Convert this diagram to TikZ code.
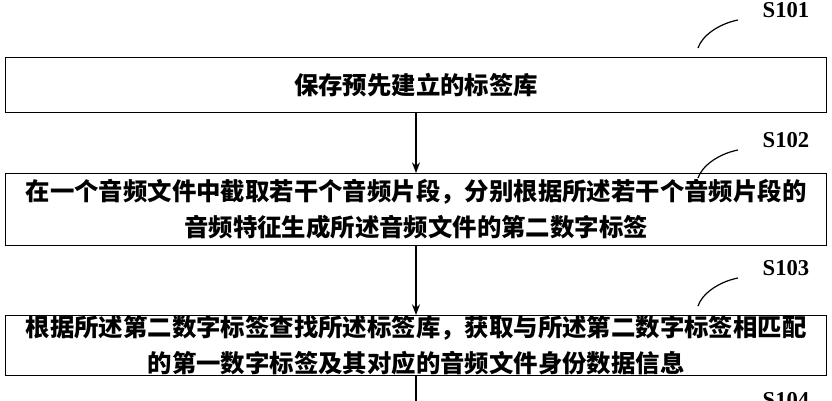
\documentclass[tikz,border=0pt]{standalone}
\usetikzlibrary{arrows.meta}
\usepackage{fontspec}
\setmainfont{Liberation Serif}
\newfontfamily\cjk{Noto Sans CJK SC}
\begin{document}
\begin{tikzpicture}[x=0.75pt,y=-0.75pt,
  stepbox/.style={draw,line width=0.9pt,rectangle,minimum width=821*0.75pt,anchor=north west,inner sep=0pt,align=center,font=\cjk\bfseries\fontsize{18.3}{27}\selectfont},
  lbl/.style={font=\bfseries\fontsize{17}{18}\selectfont,anchor=west},
  arr/.style={-{Stealth[length=8pt,width=6pt]},line width=0.9pt}]
\clip (0,0) rectangle (832,400);
\useasboundingbox (0,0) rectangle (832,400);
\node[stepbox,minimum height=55*0.75pt] (b1) at (5,57) {保存预先建立的标签库};
\node[stepbox,minimum height=72*0.75pt] (b2) at (5,173) {在一个音频文件中截取若干个音频片段，分别根据所述若干个音频片段的\\音频特征生成所述音频文件的第二数字标签};
\node[stepbox,minimum height=58*0.75pt] (b3) at (5,315) {根据所述第二数字标签查找所述标签库，获取与所述第二数字标签相匹配\\的第一数字标签及其对应的音频文件身份数据信息};
\coordinate (e) at (416,410);
\draw[arr] (b1.south -| 416,0) -- (b2.north -| 416,0);
\draw[arr] (b2.south -| 416,0) -- (b3.north -| 416,0);
\draw[line width=0.9pt] (b3.south -| 416,0) -- (e);
\foreach \y/\t [count=\i] in {10/S101,140/S102,268/S103,400/S104}{
  \node[lbl] (l\i) at (758,\y) {\t};
  \coordinate (c\i) at (738,\y+10);
  \draw[line width=0.9pt] (698,\y+38) .. controls (702,\y+26) and (718,\y+14) .. (c\i);
}
\end{tikzpicture}
\end{document}
